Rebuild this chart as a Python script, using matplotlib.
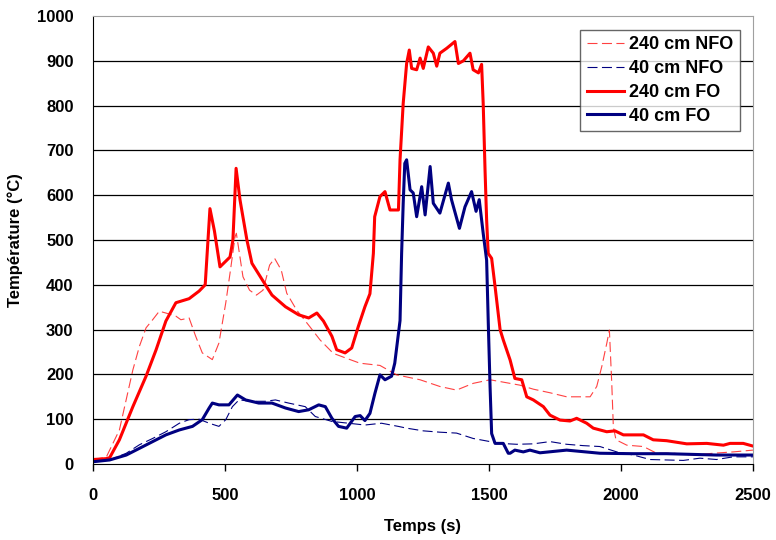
import numpy as np
import matplotlib
matplotlib.use('Agg')
from matplotlib import pyplot as plt

plt.rcParams['font.family'] = ['Liberation Sans', 'DejaVu Sans']

## data
# 240 cm FO (thick red)
t_fo240 = [0, 50, 63, 100, 151, 201, 239, 276, 314, 364, 402, 425, 443, 460, 481, 519, 530, 542,
           557, 583, 602, 653, 678, 729, 779, 817, 848, 873, 905, 923, 955, 980, 1005, 1030,
           1049, 1062, 1067, 1087, 1106, 1125, 1157, 1163, 1175, 1188, 1198, 1207, 1226, 1239,
           1251, 1270, 1289, 1302, 1314, 1340, 1371, 1384, 1403, 1428, 1440, 1460, 1472, 1478,
           1485, 1491, 1497, 1510, 1523, 1542, 1554, 1580, 1598, 1624, 1643, 1668, 1706, 1731,
           1769, 1807, 1832, 1870, 1895, 1946, 1977, 2009, 2047, 2085, 2122, 2173, 2249, 2325,
           2388, 2413, 2463, 2500]
T_fo240 = [10, 12, 14, 54, 128, 196, 255, 319, 360, 369, 386, 400, 570, 520, 440, 462, 500, 660,
           589, 500, 448, 400, 377, 351, 333, 326, 337, 319, 285, 255, 248, 259, 307, 351,
           380, 470, 552, 597, 608, 567, 567, 679, 805, 894, 924, 883, 880, 906,
           883, 931, 917, 888, 917, 928, 943, 894, 900, 917, 880, 873, 892, 805,
           656, 545, 470, 459, 396, 300, 277, 232, 191, 188, 150, 143, 128, 109,
           98, 96, 102, 91, 80, 72, 74, 65, 65, 65, 54, 52, 45, 46,
           42, 46, 46, 40]

# 240 cm NFO (thin dashed red)
t_nfo240 = [0, 50, 100, 151, 176, 201, 226, 251, 276, 314, 333, 364, 389, 414, 452, 477, 503,
            521, 538, 543, 568, 593, 619, 644, 669, 688, 713, 734, 771, 822, 860, 910, 960,
            1011, 1087, 1150, 1239, 1314, 1377, 1440, 1504, 1542, 1617, 1668, 1731, 1794, 1832,
            1883, 1908, 1927, 1946, 1956, 1965, 1971, 1981, 2022, 2085, 2135, 2198, 2274, 2350,
            2425, 2500]
T_nfo240 = [10, 15, 76, 210, 263, 304, 322, 341, 337, 330, 322, 326, 285, 248, 233, 270, 360,
            434, 507, 515, 418, 388, 377, 388, 444, 459, 433, 381, 344, 306, 277, 247, 236,
            225, 220, 199, 188, 173, 165, 180, 188, 184, 176, 167, 159, 150, 150,
            150, 173, 217, 269, 299, 180, 83, 54, 42, 39, 24, 24, 20, 24,
            27, 31]

# 40 cm FO (thick navy)
t_fo40 = [0, 63, 126, 176, 226, 276, 327, 377, 414, 440, 452, 477, 515, 547, 578, 628, 678, 729,
          779, 817, 855, 880, 905, 930, 961, 993, 1012, 1030, 1049, 1068, 1087, 1106, 1131,
          1143, 1163, 1169, 1175, 1181, 1188, 1201, 1213, 1226, 1245, 1258, 1277, 1289,
          1314, 1346, 1358, 1388, 1409, 1434, 1451, 1463, 1478, 1491, 1497, 1504, 1510, 1523,
          1554, 1573, 1580, 1598, 1630, 1655, 1693, 1794, 1920, 2047, 2173, 2362, 2500]
T_fo40 = [5, 9, 20, 35, 50, 65, 76, 84, 99, 125, 136, 132, 132, 154, 143, 136, 136, 125,
          117, 121, 132, 128, 102, 84, 80, 106, 108, 97, 113, 158, 199, 188, 196,
          225, 320, 470, 582, 671, 679, 612, 605, 552, 619, 556, 664, 582,
          560, 627, 590, 526, 574, 608, 564, 590, 515, 455, 321, 173, 68, 46,
          46, 24, 24, 31, 27, 31, 25, 31, 24, 23, 23, 20, 20]

# 40 cm NFO (thin dashed navy)
t_nfo40 = [0, 63, 126, 176, 226, 276, 327, 364, 402, 440, 477, 503, 528, 553, 603, 653, 691, 741,
           804, 842, 905, 968, 1030, 1093, 1156, 1188, 1251, 1314, 1377, 1440, 1504, 1542,
           1605, 1668, 1731, 1794, 1857, 1920, 1984, 2047, 2110, 2173, 2236, 2299, 2362,
           2425, 2500]
T_nfo40 = [5, 9, 24, 43, 57, 72, 91, 99, 100, 91, 84, 99, 128, 143, 140, 140, 143, 136,
           128, 106, 95, 91, 87, 91, 84, 80, 74, 71, 69, 57, 50, 46,
           44, 45, 50, 44, 41, 39, 27, 20, 10, 9, 8, 13, 10,
           16, 16]

labels = ['240 cm NFO', '40 cm NFO', '240 cm FO', '40 cm FO']

fig = plt.figure(figsize=(7.76, 5.40), dpi=100)
ax = fig.add_axes([93/776, 1 - 464/540, 660/776, 448/540])

ax.plot(t_nfo240, T_nfo240, color='#ff2020', lw=0.8, dashes=(9, 4), alpha=0.85, label=labels[0])
ax.plot(t_nfo40, T_nfo40, color='#000080', lw=0.8, dashes=(9, 4), label=labels[1])
ax.plot(t_fo240, T_fo240, color='#ff0000', lw=2.2, label=labels[2])
ax.plot(t_fo40, T_fo40, color='#000080', lw=2.2, label=labels[3])

ax.set_xlim(0, 2500)
ax.set_ylim(0, 1000)
ax.set_xticks(range(0, 2501, 500))
ax.set_yticks(range(0, 1001, 100))
for y in range(100, 1000, 100):
    ax.axhline(y, color='black', lw=0.9, zorder=0)

ax.spines['top'].set_color('#a0a0a0')
ax.spines['right'].set_color('#a0a0a0')
ax.spines['left'].set_color('black')
ax.spines['bottom'].set_color('black')
ax.tick_params(axis='x', direction='out', length=5, width=1, labelsize=12, pad=12)
ax.tick_params(axis='y', length=0, labelsize=12, pad=14)
for lab in ax.get_xticklabels() + ax.get_yticklabels():
    lab.set_fontweight('bold')

ax.set_xlabel('Temps (s)', fontsize=12, fontweight='bold', labelpad=12)
ax.set_ylabel('Température (°C)', fontsize=12, fontweight='bold', labelpad=10)

leg = ax.legend(loc='upper right', bbox_to_anchor=(0.98, 0.969), prop={'size': 13, 'weight': 'bold'},
                frameon=True, fancybox=False, handlelength=2.05, handletextpad=0.3,
                labelspacing=0.38, borderpad=0.35, borderaxespad=0)
leg.get_frame().set_edgecolor('#404040')
leg.get_frame().set_linewidth(1)

plt.savefig('out.png', dpi=100)
